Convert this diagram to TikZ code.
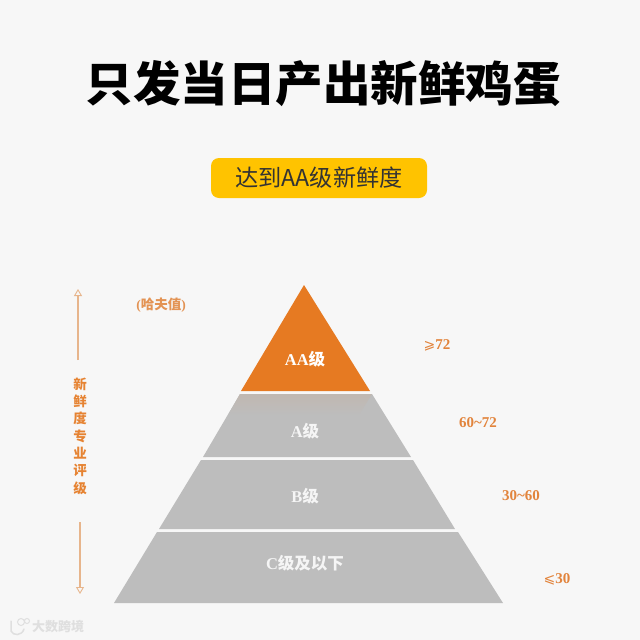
\documentclass[tikz,border=0pt]{standalone}
\usepackage{fontspec}
\usetikzlibrary{arrows.meta}
\setmainfont{Liberation Serif}
\newfontfamily\cjk{Noto Sans CJK SC}
\newfontfamily\djsans{DejaVu Sans}
\definecolor{bgc}{HTML}{F7F7F7}
\definecolor{orangeT}{HTML}{E67A22}
\definecolor{orangeL}{HTML}{E2843C}
\definecolor{band}{HTML}{BDBDBD}
\definecolor{gold}{HTML}{FFC300}
\definecolor{tanline}{HTML}{E7B58C}
\definecolor{markc}{HTML}{DFDFDF}
\tikzset{
 x=1pt,y=-1pt,
 tier/.style={fill=band,draw=none},
 tierlabel/.style={inner sep=0pt,text=white!85!band,font=\bfseries\fontsize{16.5}{16.5}\selectfont},
 value/.style={inner sep=0pt,text=orangeL,font=\bfseries\fontsize{15}{15}\selectfont},
 axisline/.style={draw=tanline,line width=1.2pt,-{Triangle[open,length=7pt,width=8pt,line width=0.9pt]}},
 axislabel/.style={inner sep=0pt,text=orangeT!85!tanline,align=center,font=\cjk\bfseries\fontsize{13.5}{17.3}\selectfont},
}
\begin{document}
\begin{tikzpicture}
\useasboundingbox (0,0) rectangle (640,640);
\fill[bgc] (0,0) rectangle (640,640);
% faint pale patch behind the apex
\fill[white,opacity=.08] (186,262) rectangle (418,390);
% title
\node[inner sep=0pt] (title) at (323,84) {\cjk\bfseries\fontsize{47.5}{47.5}\selectfont 只发当日产出新鲜鸡蛋};
% badge
\node[fill=gold,rounded corners=8pt,minimum width=216pt,minimum height=40pt,inner sep=0pt] (badge) at (319,178)
 {\cjk\fontsize{23.2}{23.2}\selectfont\color{black!80} 达到AA级新鲜度};
% pyramid
\fill[orangeT] (304,285) -- (370,391) -- (241,391) -- cycle;
\fill[tier] (240,394) -- (372,394) -- (411,457) -- (203,457) -- cycle;
\shade[top color=band!92!orangeT,bottom color=band] (240,394) -- (372,394) -- (359,415) -- (228,415) -- cycle;
\fill[tier] (201,460) -- (413,460) -- (455,529) -- (159,529) -- cycle;
\fill[tier] (157,532) -- (458,532) -- (503,603) -- (114,603) -- cycle;
% tier labels
\node[tierlabel,text=white] (aa) at (305,359) {AA{\cjk 级}};
\node[tierlabel] (a) at (305,431) {A{\cjk 级}};
\node[tierlabel] (b) at (305,496) {B{\cjk 级}};
\node[tierlabel] (c) at (305,563) {C{\cjk 级及以下}};
% values
\node[value] (v1) at (437,345) {{\djsans\mdseries\fontsize{14}{14}\selectfont ⩾}72};
\node[value] (v2) at (478,423) {60\char`\~72};
\node[value] (v3) at (521,496) {30\char`\~60};
\node[value] (v4) at (557,579) {{\djsans\mdseries\fontsize{14}{14}\selectfont ⩽}30};
% unit
\node[inner sep=0pt,text=orangeL!70!tanline] (unit) at (161,305) {\bfseries\fontsize{13.5}{13.5}\selectfont ({\cjk 哈夫值})};
% axis
\node[axislabel] (axis) at (80,436) {新\\鲜\\度\\专\\业\\评\\级};
\coordinate (upA) at (78,360); \coordinate (upB) at (78,289);
\coordinate (dnA) at (80,522); \coordinate (dnB) at (80,594);
\draw[axisline] (upA) -- (upB);
\draw[axisline] (dnA) -- (dnB);
% watermark
\node[inner sep=0pt,text=markc] (wm) at (58,627) {\cjk\bfseries\fontsize{13}{13}\selectfont 大数跨境};
\draw[markc,line width=1.5pt,line cap=round] (11,621) -- (11,631) .. controls (13,636) and (22,636) .. (24,629);
\draw[markc,line width=1pt] (21,622) circle (3.5pt) (27,621) circle (2.5pt);
\end{tikzpicture}
\end{document}
